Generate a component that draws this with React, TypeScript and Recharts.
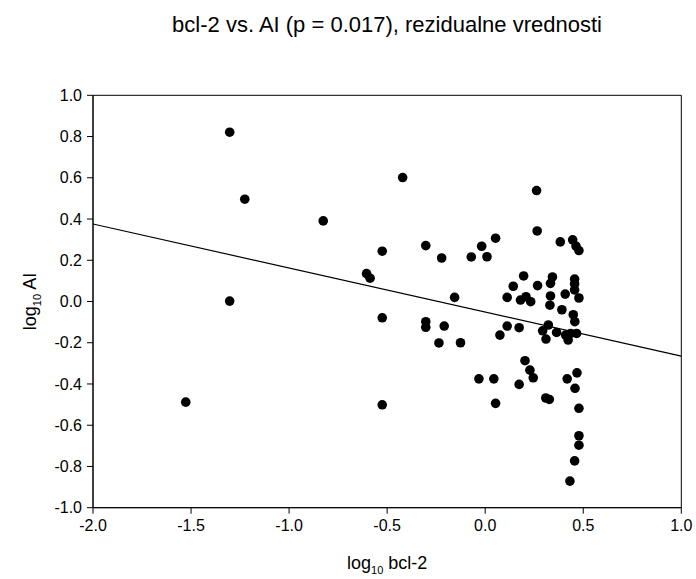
import React from "react";
import {
  ScatterChart,
  Scatter,
  XAxis,
  YAxis,
  ReferenceLine,
  ReferenceArea,
  Label,
} from "recharts";

const bcl2Log: number[] = [
  -1.303, -1.226, -1.303, -1.527, -0.826, -0.421, -0.525, -0.303, -0.222, -0.071,
  -0.018, 0.009, 0.053, -0.605, -0.587, -0.156, -0.525, -0.303, -0.303, -0.209,
  -0.236, -0.126, 0.075, 0.112, 0.143, 0.112, -0.525, -0.032, 0.044, 0.053,
  0.262, 0.265, 0.383, 0.446, 0.463, 0.478, 0.196, 0.267, 0.343, 0.333,
  0.456, 0.456, 0.456, 0.408, 0.478, 0.333, 0.33, 0.391, 0.449, 0.18,
  0.208, 0.232, 0.457, 0.173, 0.322, 0.293, 0.31, 0.364, 0.41, 0.423,
  0.466, 0.436, 0.203, 0.228, 0.245, 0.173, 0.418, 0.468, 0.458, 0.309,
  0.327, 0.478, 0.478, 0.478, 0.456, 0.432,
];

const aiLog: number[] = [
  0.821, 0.496, 0.002, -0.488, 0.391, 0.601, 0.244, 0.271, 0.211, 0.216,
  0.268, 0.217, 0.307, 0.135, 0.113, 0.02, -0.079, -0.098, -0.125, -0.119,
  -0.201, -0.2, -0.163, -0.119, 0.074, 0.02, -0.501, -0.375, -0.375, -0.494,
  0.538, 0.342, 0.289, 0.299, 0.269, 0.247, 0.124, 0.077, 0.119, 0.088,
  0.109, 0.085, 0.056, 0.036, 0.017, 0.027, -0.018, -0.04, -0.064, 0.007,
  0.023, -0.001, -0.098, -0.127, -0.114, -0.142, -0.182, -0.15, -0.163, -0.187,
  -0.155, -0.155, -0.287, -0.333, -0.37, -0.402, -0.375, -0.346, -0.421, -0.468,
  -0.475, -0.518, -0.651, -0.697, -0.773, -0.871,
];

const fitX: number[] = [-2.0, 1.0];
const fitY: number[] = [0.376, -0.265];

const xTicks: number[] = [-2.0, -1.5, -1.0, -0.5, 0.0, 0.5, 1.0];
const yTicks: number[] = [-1.0, -0.8, -0.6, -0.4, -0.2, 0.0, 0.2, 0.4, 0.6, 0.8, 1.0];

const titleText = "bcl-2 vs. AI (p = 0.017), rezidualne vrednosti";

const points = bcl2Log.map((x, i) => ({ x, y: aiLog[i] }));

const FONT = "'Liberation Sans', Arial, Helvetica, sans-serif";

const Dot = (props: any) => {
  const { cx, cy } = props;
  if (cx == null || cy == null) return null;
  return <circle cx={cx} cy={cy} r={4.8} fill="#000" />;
};

const XLabelContent = (props: any) => {
  const vb = props.viewBox || {};
  const cx = vb.x + vb.width / 2;
  const y = 569;
  return (
    <text x={cx} y={y} textAnchor="middle" fontFamily={FONT} fontSize={18} fill="#000">
      <tspan>log</tspan>
      <tspan fontSize={11} dy={5}>10</tspan>
      <tspan dy={-5}> bcl-2</tspan>
    </text>
  );
};

const YLabelContent = (props: any) => {
  const vb = props.viewBox || {};
  const cy = vb.y + vb.height / 2;
  const x = 36;
  return (
    <text
      x={x}
      y={cy}
      transform={`rotate(-90, ${x}, ${cy})`}
      textAnchor="middle"
      fontFamily={FONT}
      fontSize={18}
      fill="#000"
    >
      <tspan>log</tspan>
      <tspan fontSize={11} dy={5}>10</tspan>
      <tspan dy={-5}> AI</tspan>
    </text>
  );
};

export default function App() {
  return (
    <div style={{ position: "absolute", left: 0, top: 0, width: 696, height: 579, background: "#fff" }}>
      <div
        style={{
          position: "absolute",
          left: 93,
          width: 588,
          top: 12,
          textAlign: "center",
          fontFamily: FONT,
          fontSize: 22,
          lineHeight: "25px",
          color: "#000",
          whiteSpace: "nowrap",
        }}
      >
        {titleText}
      </div>
      <ScatterChart
        width={696}
        height={579}
        margin={{ top: 95.3, right: 14.7, bottom: 11.3, left: 0 }}
      >
        <XAxis
          type="number"
          dataKey="x"
          domain={[-2, 1]}
          ticks={xTicks}
          allowDataOverflow
          height={60}
          tickSize={6}
          tickMargin={6}
          tickFormatter={(v: number) => v.toFixed(1)}
          tick={{ fill: "#000", fontSize: 16, fontFamily: FONT }}
          stroke="#000"
          axisLine={{ stroke: "#000", strokeWidth: 1 }}
          tickLine={{ stroke: "#000", strokeWidth: 1 }}
        >
          <Label content={XLabelContent} />
        </XAxis>
        <YAxis
          type="number"
          dataKey="y"
          domain={[-1, 1]}
          ticks={yTicks}
          allowDataOverflow
          width={93}
          tickSize={6}
          tickMargin={5}
          tickFormatter={(v: number) => v.toFixed(1)}
          tick={{ fill: "#000", fontSize: 16, fontFamily: FONT }}
          stroke="#000"
          axisLine={{ stroke: "#000", strokeWidth: 1 }}
          tickLine={{ stroke: "#000", strokeWidth: 1 }}
        >
          <Label content={YLabelContent} />
        </YAxis>
        <ReferenceArea
          x1={-2}
          x2={1}
          y1={-1}
          y2={1}
          fill="none"
          fillOpacity={0}
          stroke="#000"
          strokeWidth={1}
          ifOverflow="extendDomain"
        />
        <ReferenceLine
          segment={[
            { x: fitX[0], y: fitY[0] },
            { x: fitX[1], y: fitY[1] },
          ]}
          stroke="#000"
          strokeWidth={1.2}
        />
        <Scatter data={points} shape={Dot} isAnimationActive={false} />
      </ScatterChart>
    </div>
  );
}
